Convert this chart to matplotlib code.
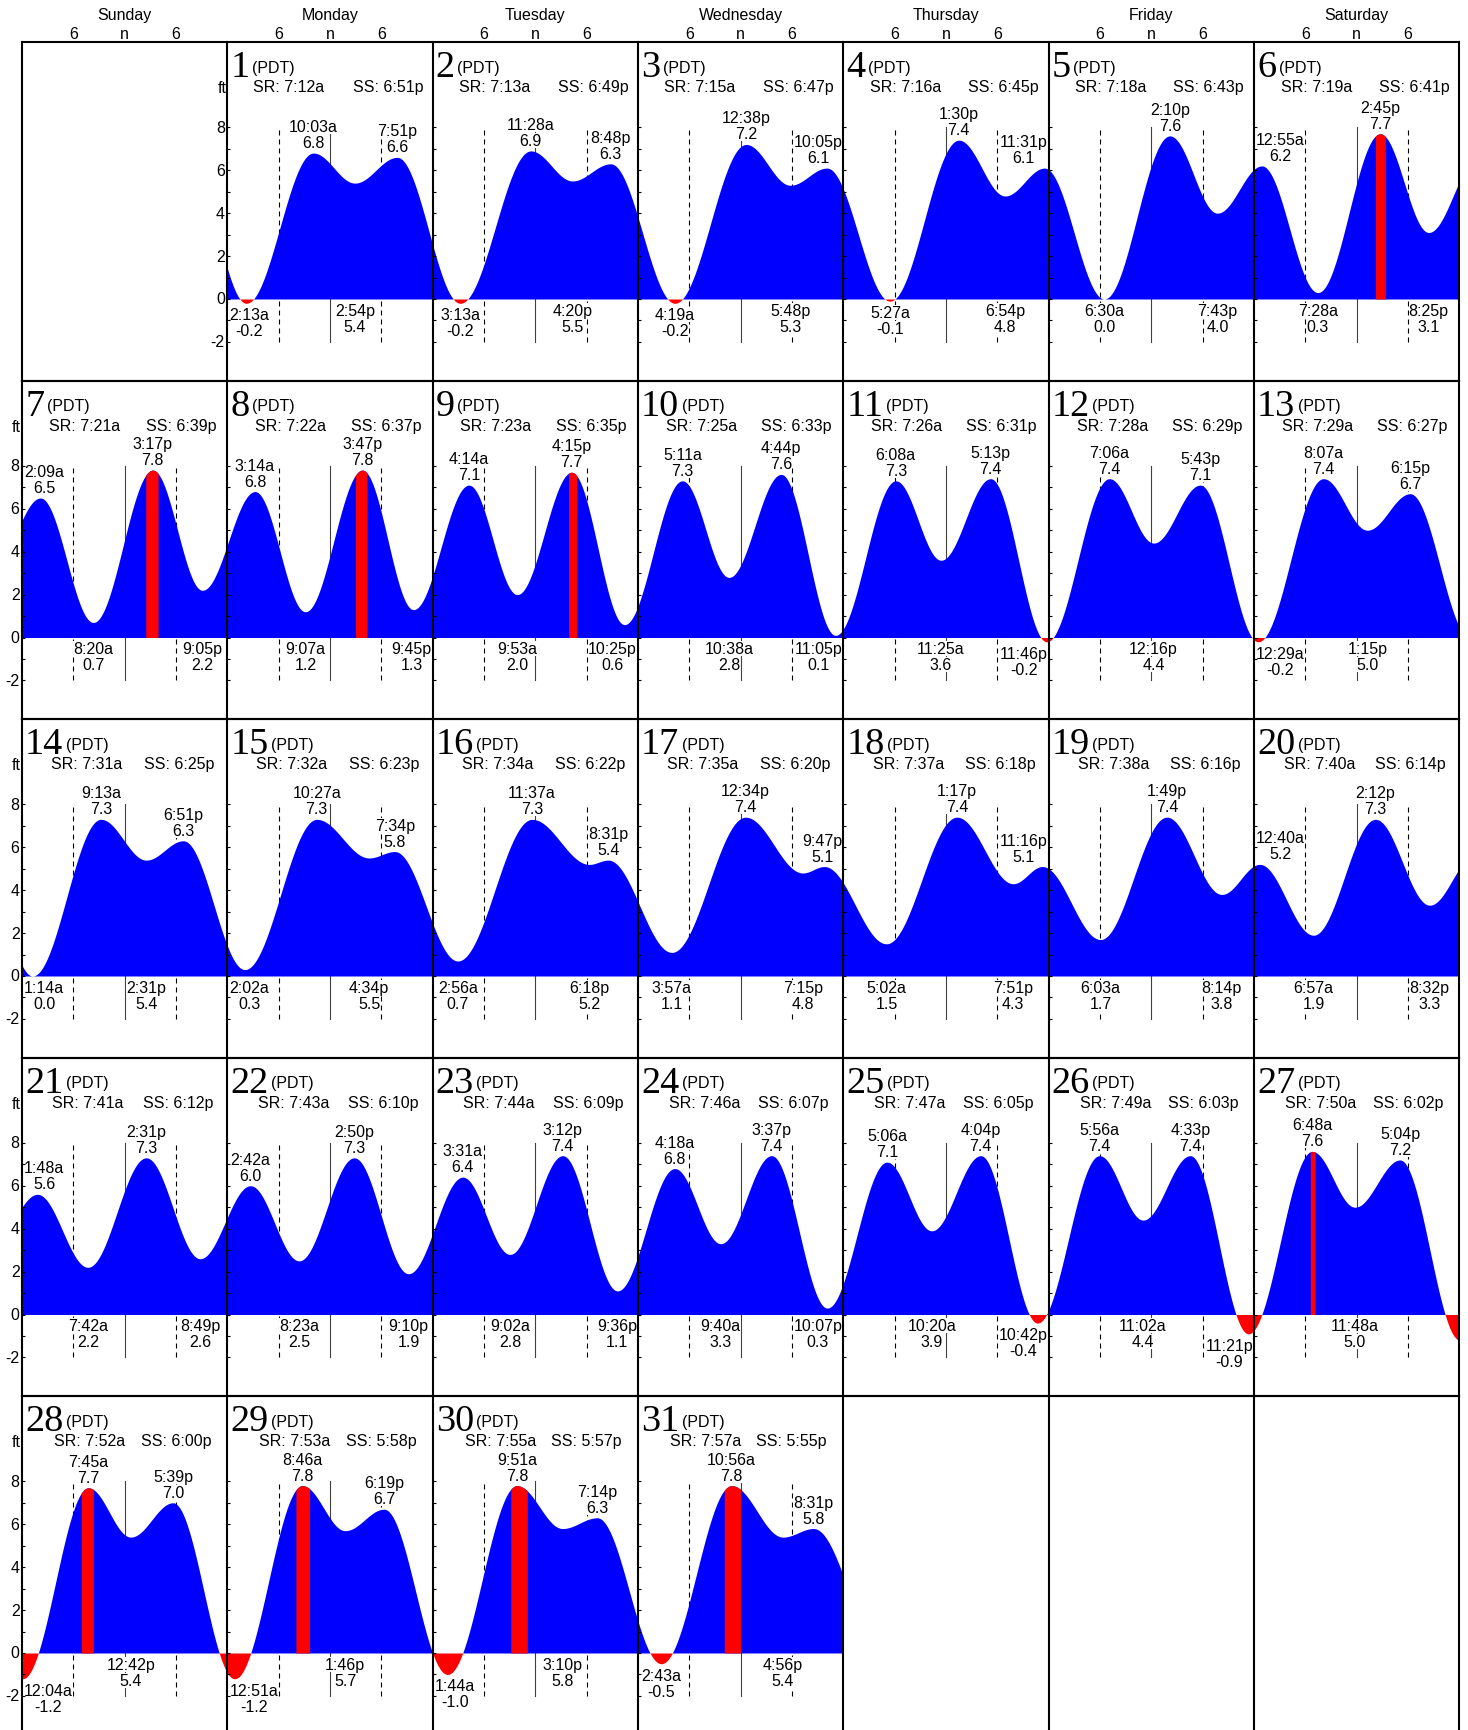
import numpy as np
import matplotlib
matplotlib.use("Agg")
import matplotlib.pyplot as plt

plt.rcParams['font.family'] = ['Liberation Sans', 'DejaVu Sans']

# ---------------- data ----------------
week_days = ["Sunday", "Monday", "Tuesday", "Wednesday", "Thursday", "Friday", "Saturday"]
hour_ticks = [6, 12, 18]
hour_tick_labels = ["6", "n", "6"]
first_weekday = 1          # day 1 falls on Monday
n_days = 31
time_zone = "(PDT)"
y_tick_values = [-2, 0, 2, 4, 6, 8]

sunrise = ["7:12a", "7:13a", "7:15a", "7:16a", "7:18a", "7:19a", "7:21a", "7:22a", "7:23a", "7:25a",
           "7:26a", "7:28a", "7:29a", "7:31a", "7:32a", "7:34a", "7:35a", "7:37a", "7:38a", "7:40a",
           "7:41a", "7:43a", "7:44a", "7:46a", "7:47a", "7:49a", "7:50a", "7:52a", "7:53a", "7:55a", "7:57a"]
sunset = ["6:51p", "6:49p", "6:47p", "6:45p", "6:43p", "6:41p", "6:39p", "6:37p", "6:35p", "6:33p",
          "6:31p", "6:29p", "6:27p", "6:25p", "6:23p", "6:22p", "6:20p", "6:18p", "6:16p", "6:14p",
          "6:12p", "6:10p", "6:09p", "6:07p", "6:05p", "6:03p", "6:02p", "6:00p", "5:58p", "5:57p", "5:55p"]

# tide extremes (day 0 and day 32 entries only continue the curve at the edges)
tide_day = [0,
            1, 1, 1, 1,
            2, 2, 2, 2,
            3, 3, 3, 3,
            4, 4, 4, 4,
            5, 5, 5,
            6, 6, 6, 6,
            7, 7, 7, 7,
            8, 8, 8, 8,
            9, 9, 9, 9,
            10, 10, 10, 10,
            11, 11, 11, 11,
            12, 12, 12,
            13, 13, 13, 13,
            14, 14, 14, 14,
            15, 15, 15, 15,
            16, 16, 16, 16,
            17, 17, 17, 17,
            18, 18, 18, 18,
            19, 19, 19,
            20, 20, 20, 20,
            21, 21, 21, 21,
            22, 22, 22, 22,
            23, 23, 23, 23,
            24, 24, 24, 24,
            25, 25, 25, 25,
            26, 26, 26, 26,
            27, 27, 27,
            28, 28, 28, 28,
            29, 29, 29, 29,
            30, 30, 30, 30,
            31, 31, 31, 31,
            32]
tide_time = ["7:25p",
             "2:13a", "10:03a", "2:54p", "7:51p",
             "3:13a", "11:28a", "4:20p", "8:48p",
             "4:19a", "12:38p", "5:48p", "10:05p",
             "5:27a", "1:30p", "6:54p", "11:31p",
             "6:30a", "2:10p", "7:43p",
             "12:55a", "7:28a", "2:45p", "8:25p",
             "2:09a", "8:20a", "3:17p", "9:05p",
             "3:14a", "9:07a", "3:47p", "9:45p",
             "4:14a", "9:53a", "4:15p", "10:25p",
             "5:11a", "10:38a", "4:44p", "11:05p",
             "6:08a", "11:25a", "5:13p", "11:46p",
             "7:06a", "12:16p", "5:43p",
             "12:29a", "8:07a", "1:15p", "6:15p",
             "1:14a", "9:13a", "2:31p", "6:51p",
             "2:02a", "10:27a", "4:34p", "7:34p",
             "2:56a", "11:37a", "6:18p", "8:31p",
             "3:57a", "12:34p", "7:15p", "9:47p",
             "5:02a", "1:17p", "7:51p", "11:16p",
             "6:03a", "1:49p", "8:14p",
             "12:40a", "6:57a", "2:12p", "8:32p",
             "1:48a", "7:42a", "2:31p", "8:49p",
             "2:42a", "8:23a", "2:50p", "9:10p",
             "3:31a", "9:02a", "3:12p", "9:36p",
             "4:18a", "9:40a", "3:37p", "10:07p",
             "5:06a", "10:20a", "4:04p", "10:42p",
             "5:56a", "11:02a", "4:33p", "11:21p",
             "6:48a", "11:48a", "5:04p",
             "12:04a", "7:45a", "12:42p", "5:39p",
             "12:51a", "8:46a", "1:46p", "6:19p",
             "1:44a", "9:51a", "3:10p", "7:14p",
             "2:43a", "10:56a", "4:56p", "8:31p",
             "5:00a"]
tide_ft = [6.6,
           -0.2, 6.8, 5.4, 6.6,
           -0.2, 6.9, 5.5, 6.3,
           -0.2, 7.2, 5.3, 6.1,
           -0.1, 7.4, 4.8, 6.1,
           0.0, 7.6, 4.0,
           6.2, 0.3, 7.7, 3.1,
           6.5, 0.7, 7.8, 2.2,
           6.8, 1.2, 7.8, 1.3,
           7.1, 2.0, 7.7, 0.6,
           7.3, 2.8, 7.6, 0.1,
           7.3, 3.6, 7.4, -0.2,
           7.4, 4.4, 7.1,
           -0.2, 7.4, 5.0, 6.7,
           0.0, 7.3, 5.4, 6.3,
           0.3, 7.3, 5.5, 5.8,
           0.7, 7.3, 5.2, 5.4,
           1.1, 7.4, 4.8, 5.1,
           1.5, 7.4, 4.3, 5.1,
           1.7, 7.4, 3.8,
           5.2, 1.9, 7.3, 3.3,
           5.6, 2.2, 7.3, 2.6,
           6.0, 2.5, 7.3, 1.9,
           6.4, 2.8, 7.4, 1.1,
           6.8, 3.3, 7.4, 0.3,
           7.1, 3.9, 7.4, -0.4,
           7.4, 4.4, 7.4, -0.9,
           7.6, 5.0, 7.2,
           -1.2, 7.7, 5.4, 7.0,
           -1.2, 7.8, 5.7, 6.7,
           -1.0, 7.8, 5.8, 6.3,
           -0.5, 7.8, 5.4, 5.8,
           -0.3]

# red highlighted windows around the highest tides
hl_day = [6, 7, 8, 9, 27, 28, 29, 30, 31]
hl_start = ["2:12p", "2:28p", "2:59p", "3:53p", "6:35a", "6:56a", "8:01a", "9:08a", "10:04a"]
hl_end = ["3:21p", "3:54p", "4:19p", "4:50p", "7:09a", "8:20a", "9:37a", "11:04a", "11:59a"]


def hours(s):
    hm, ap = s[:-1], s[-1]
    h, m = (int(v) for v in hm.split(":"))
    return h % 12 + (12 if ap == "p" else 0) + m / 60.0


# ---------------- layout (pixels) ----------------
W, H, DPI = 1468, 1731, 100
GL, GR, GT = 22.0, 1459.3, 43.0
ROW_H = 338.5
N_ROWS = 5
COL_W = (GR - GL) / 7
PX_H = COL_W / 24.0          # pixels per hour
PX_FT = 21.46                # pixels per foot
Y_TOP = 257.0 / PX_FT
Y_BOT = -(ROW_H - 257.0) / PX_FT
FS = 11.5
LINE_FT = 16.0 / PX_FT

BLUE = "#0000FF"
RED = "#FF0000"

fig = plt.figure(figsize=(W / DPI, H / DPI), dpi=DPI)
renderer = fig.canvas.get_renderer()

# global tide curve (hours from day 1, 00:00)
ext_T = np.array([(d - 1) * 24 + hours(t) for d, t in zip(tide_day, tide_time)])
ext_v = np.array(tide_ft)
T = np.arange(0, n_days * 24 + 1e-9, 1 / 60.0)
idx = np.clip(np.searchsorted(ext_T, T, side="right") - 1, 0, len(ext_T) - 2)
t0, t1 = ext_T[idx], ext_T[idx + 1]
v0, v1 = ext_v[idx], ext_v[idx + 1]
level = v0 + (v1 - v0) * (1 - np.cos(np.pi * (T - t0) / (t1 - t0))) / 2

hl_T = [((d - 1) * 24 + hours(s), (d - 1) * 24 + hours(e)) for d, s, e in zip(hl_day, hl_start, hl_end)]

blk = dict(facecolor="white", edgecolor="none", pad=0)

for r in range(N_ROWS):
    ax = fig.add_axes([GL / W, 1 - (GT + (r + 1) * ROW_H) / H, (GR - GL) / W, ROW_H / H])
    ax.set_xlim(0, 168)
    ax.set_ylim(Y_BOT, Y_TOP)
    ax.axis("off")

    row_T0 = (7 * r - first_weekday) * 24
    x = T - row_T0
    m = (x >= 0) & (x <= 168)
    xs, ls = x[m], level[m]
    ax.fill_between(xs, 0, np.maximum(ls, 0), color=BLUE, lw=0, zorder=2)
    ax.fill_between(xs, np.minimum(ls, 0), 0, color=RED, lw=0, zorder=2)
    for (a, b) in hl_T:
        mm = m & (T >= a) & (T <= b)
        if mm.any():
            ax.fill_between(x[mm], 0, level[mm], color=RED, lw=0, zorder=2.5)

    # borders
    for c in range(8):
        ax.plot([24 * c, 24 * c], [Y_BOT, Y_TOP], color="black", lw=1.5, clip_on=False,
                solid_capstyle="projecting", zorder=5)
    for yy in (Y_TOP, Y_BOT):
        ax.plot([0, 168], [yy, yy], color="black", lw=1.5, clip_on=False,
                solid_capstyle="projecting", zorder=5)

    # header
    if r == 0:
        for c, name in enumerate(week_days):
            ax.text(24 * c + 12, Y_TOP + 23 / PX_FT, name, ha="center", va="baseline",
                    fontsize=FS, clip_on=False)
            for hv, hl in zip(hour_ticks, hour_tick_labels):
                ax.text(24 * c + hv, Y_TOP + 3.7 / PX_FT, hl, ha="center", va="baseline",
                        fontsize=FS, clip_on=False)

    first_labeled = False
    for c in range(7):
        d = 7 * r + c - first_weekday + 1
        if d < 1 or d > n_days:
            continue
        xl = 24 * c
        # hour guide lines
        for hv in hour_ticks:
            if hv == 12:
                ax.plot([xl + hv] * 2, [-2, 8], color="#404040", lw=0.8, zorder=1)
            else:
                ax.plot([xl + hv] * 2, [-2, 8], color="black", lw=0.8, zorder=1,
                        dashes=(4.5, 3.6))
        # y ticks
        yt = np.arange(-2, 9)
        ax.hlines(yt, xl, xl + 3 / PX_H, color="black", lw=0.8, zorder=5)
        if not first_labeled:
            first_labeled = True
            for v in y_tick_values:
                ax.text(xl - 2.5 / PX_H, v, str(v), ha="right", va="center", fontsize=FS,
                        clip_on=False)
            ax.text(xl - 1 / PX_H, 9.63, "ft", ha="right", va="baseline", fontsize=FS,
                    clip_on=False)
        # day number and zone
        num = ax.text(xl + 3 / PX_H, 10.38, str(d), family=["Liberation Serif", "DejaVu Serif"],
                      fontsize=27.5, ha="left", va="baseline", zorder=6)
        ax.annotate(time_zone, xy=(1, 10.6), xycoords=(num, "data"), xytext=(2.5, 0),
                    textcoords="offset pixels", fontsize=FS, ha="left", va="baseline", zorder=6)
        ax.text(xl + hours(sunrise[d - 1]), 9.68, "SR: " + sunrise[d - 1], ha="center",
                va="baseline", fontsize=FS, zorder=6)
        ax.text(xl + hours(sunset[d - 1]), 9.68, "SS: " + sunset[d - 1], ha="center",
                va="baseline", fontsize=FS, zorder=6)

        # tide labels
        for i, (td, tt, tv) in enumerate(zip(tide_day, tide_time, tide_ft)):
            if td != d:
                continue
            prev_v = tide_ft[i - 1]
            is_high = tv > prev_v
            vs = "%.1f" % tv
            if vs == "-0.0":
                vs = "0.0"
            cx = xl + hours(tt)
            if is_high:
                yb_val = tv + 0.28
                yb_time = yb_val + LINE_FT
            else:
                top = min(tv, 0) - 0.2
                yb_time = top - 11.5 / PX_FT
                yb_val = yb_time - LINE_FT
            t1_ = ax.text(cx, yb_time, tt, ha="center", va="baseline", fontsize=FS,
                          bbox=blk, zorder=4)
            t2_ = ax.text(cx, yb_val, vs, ha="center", va="baseline", fontsize=FS,
                          bbox=blk, zorder=4)
            wpx = max(t1_.get_window_extent(renderer).width, t2_.get_window_extent(renderer).width)
            wh = wpx / PX_H
            lo = xl + 2 / PX_H + wh / 2
            hi = xl + 24 - 1 / PX_H - wh / 2
            ncx = min(max(cx, lo), hi)
            t1_.set_x(ncx)
            t2_.set_x(ncx)

fig.savefig("out.png", dpi=DPI)
